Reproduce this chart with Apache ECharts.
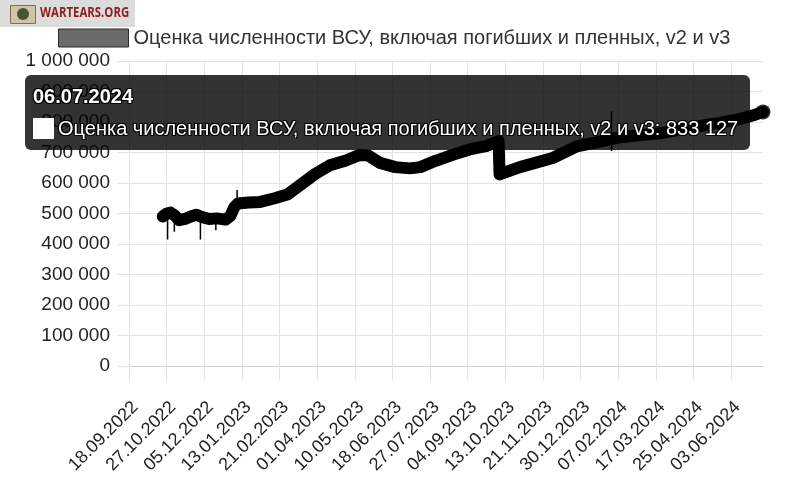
<!DOCTYPE html>
<html>
<head>
<meta charset="utf-8">
<script src="https://cdn.jsdelivr.net/npm/echarts@6/dist/echarts.min.js"></script>
<style>
  html, body { margin: 0; padding: 0; background: #fff; }
  #chart { width: 799px; height: 502px; }
</style>
</head>
<body>
<div id="chart"></div>
<script>
  var seriesName = 'Оценка численности ВСУ, включая погибших и пленных, v2 и v3';
  var firstDay = [2022, 8, 18];   // 18.09.2022
  var dayCount = 658;             // up to 06.07.2024
  var yTicks = [0, 100000, 200000, 300000, 400000, 500000, 600000, 700000, 800000, 900000, 1000000];

  var pointDates = [
    '23.10.2022', '27.10.2022', '31.10.2022', '05.11.2022', '09.11.2022', '15.11.2022',
    '21.11.2022', '27.11.2022', '03.12.2022', '10.12.2022', '18.12.2022', '27.12.2022',
    '01.01.2023', '05.01.2023', '09.01.2023', '20.01.2023', '01.02.2023', '16.02.2023',
    '01.03.2023', '14.03.2023', '30.03.2023', '14.04.2023', '30.04.2023', '15.05.2023',
    '24.05.2023', '05.06.2023', '21.06.2023', '06.07.2023', '17.07.2023', '01.08.2023',
    '20.08.2023', '06.09.2023', '24.09.2023', '06.10.2023', '07.10.2023', '28.10.2023',
    '01.12.2023', '26.12.2023', '19.01.2024', '09.02.2024', '01.03.2024', '21.03.2024',
    '11.04.2024', '02.05.2024', '22.05.2024', '12.06.2024', '28.06.2024', '06.07.2024'
  ];
  var pointValues = [
    490000, 500000, 503000, 492000, 478000, 482000,
    490000, 496000, 488000, 482000, 484000, 480000,
    492000, 520000, 533000, 536000, 538000, 550000,
    562000, 592000, 630000, 658000, 673000, 692000,
    690000, 666000, 652000, 648000, 652000, 672000,
    693000, 710000, 722000, 738000, 628000, 652000,
    682000, 720000, 736000, 750000, 757000, 763000,
    775000, 787000, 797000, 810000, 824000, 833127
  ];

  // short one-day jumps, drawn as thin strokes
  var spikeDates = ['28.10.2022', '04.11.2022', '01.12.2022', '17.12.2022', '08.01.2023', '31.01.2024'];
  var spikeFrom = [495000, 490000, 490000, 485000, 530000, 705000];
  var spikeTo = [415000, 440000, 415000, 445000, 577000, 835000];

  function pad (n) { return n < 10 ? '0' + n : '' + n }
  function fmt (v) { return String(v).replace(/\B(?=(\d{3})+(?!\d))/g, ' ') }

  var categories = []
  for (var i = 0; i < dayCount; i++) {
    var d = new Date(Date.UTC(firstDay[0], firstDay[1], firstDay[2] + i))
    categories.push(pad(d.getUTCDate()) + '.' + pad(d.getUTCMonth() + 1) + '.' + d.getUTCFullYear())
  }

  var mainData = pointDates.map(function (d, i) { return [d, pointValues[i]] })
  var spikeData = []
  spikeDates.forEach(function (d, i) {
    spikeData.push([d, spikeFrom[i]], [d, spikeTo[i]], '-')
  })
  var last = mainData[mainData.length - 1]

  var font = '"Liberation Sans", Arial, sans-serif'
  var gridColor = '#e3e3e3'

  var chart = echarts.init(document.getElementById('chart'))
  chart.setOption({
    animation: false,
    textStyle: { fontFamily: font },
    graphic: [
      { type: 'rect', left: 0, top: 0, shape: { width: 135, height: 27 }, style: { fill: '#dcdcdc' }, silent: true },
      { type: 'rect', left: 10, top: 5, shape: { width: 25, height: 18 }, style: { fill: '#cfc4a6', stroke: '#8a6a48', lineWidth: 1 }, silent: true },
      { type: 'circle', left: 17, top: 8, shape: { r: 6 }, style: { fill: '#4a5236' }, silent: true },
      { type: 'text', x: 40, y: 5, scaleX: 0.76, style: { text: 'WARTEARS.ORG', fill: '#8b1d1d', font: 'bold 15px "Open Sans", sans-serif' }, silent: true }
    ],
    legend: {
      data: [seriesName],
      left: 53,
      top: 23,
      icon: 'rect',
      itemWidth: 70,
      itemHeight: 18,
      itemStyle: { color: '#6b6b6b', borderColor: '#2b2b2b', borderWidth: 1 },
      textStyle: { fontSize: 20, color: '#333', fontFamily: font },
      selectedMode: false
    },
    grid: { left: 129, right: 36, top: 61, bottom: 136, containLabel: false },
    tooltip: {
      trigger: 'item',
      triggerOn: 'none',
      alwaysShowContent: true,
      position: [25, 75],
      backgroundColor: 'rgba(0,0,0,0.8)',
      borderWidth: 0,
      padding: [9, 12, 10, 8],
      transitionDuration: 0,
      extraCssText: 'border-radius:6px;box-shadow:none;',
      formatter: function (p) {
        var sh = 'text-shadow:-1px -1px 0 #000,1px -1px 0 #000,-1px 1px 0 #000,1px 1px 0 #000;'
        return '<div style="font-family:' + font.replace(/"/g, '\'') + ';color:#fff;' + sh + '">' +
          '<div style="font-weight:bold;font-size:20px;line-height:24px;margin-bottom:8px;">' + p.value[0] + '</div>' +
          '<div style="font-size:20px;line-height:24px;white-space:nowrap;">' +
          '<span style="display:inline-block;width:21px;height:21px;background:#fff;vertical-align:-4px;margin-right:4px;"></span>' +
          seriesName + ': ' + fmt(p.value[1]) + '</div></div>'
      }
    },
    xAxis: {
      type: 'category',
      data: categories,
      boundaryGap: false,
      axisLine: { show: true, lineStyle: { color: '#cfcfcf', width: 1 } },
      axisTick: { show: true, interval: 38, length: 14, lineStyle: { color: gridColor } },
      axisLabel: { interval: 38, rotate: 45, fontSize: 18, color: '#222', margin: 32, verticalAlign: 'top', fontFamily: font },
      splitLine: { show: true, interval: 38, lineStyle: { color: gridColor } }
    },
    yAxis: {
      type: 'value',
      min: yTicks[0],
      max: yTicks[yTicks.length - 1],
      interval: yTicks[1] - yTicks[0],
      axisLine: { show: false },
      axisTick: { show: true, length: 12, lineStyle: { color: gridColor } },
      axisLabel: { fontSize: 19, color: '#222', margin: 19, fontFamily: font, formatter: fmt },
      splitLine: { show: true, lineStyle: { color: gridColor } }
    },
    series: [
      {
        name: seriesName,
        type: 'line',
        data: mainData,
        symbol: 'none',
        color: '#000',
        lineStyle: { color: '#000', width: 12, cap: 'round', join: 'round' },
        tooltip: { show: false },
        z: 3
      },
      {
        name: seriesName,
        type: 'line',
        data: spikeData,
        symbol: 'none',
        connectNulls: false,
        color: '#000',
        lineStyle: { color: '#000', width: 1.5 },
        tooltip: { show: false },
        z: 3
      },
      {
        name: seriesName,
        type: 'scatter',
        data: [last],
        symbolSize: 15,
        itemStyle: { color: '#000' },
        z: 4
      }
    ]
  })
  chart.dispatchAction({ type: 'showTip', seriesIndex: 2, dataIndex: 0 })
</script>
</body>
</html>
